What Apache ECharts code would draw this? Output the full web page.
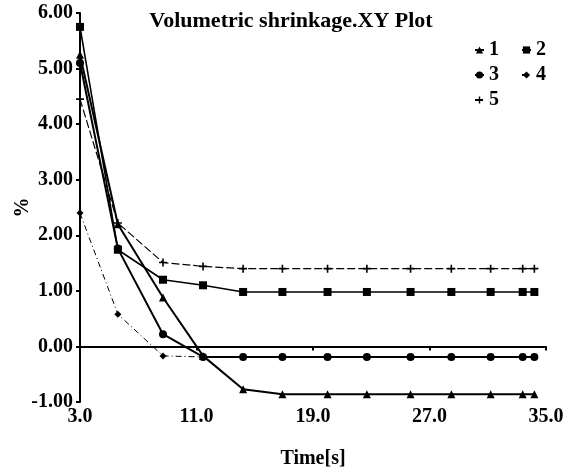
<!DOCTYPE html>
<html>
<head>
    <meta charset="utf-8">
    <title>Volumetric shrinkage XY Plot</title>
    <script src="https://cdn.jsdelivr.net/npm/echarts@6/dist/echarts.min.js"></script>
    <style type="text/css">
        html, body {
            margin: 0;
            height: 100%;
            background: #fff;
        }
    </style>
</head>
<body>
<div id="main" style="width: 563px;height:472px;"></div>
<script type="text/javascript">
    // time points (s)
    var time = [3.0, 5.6, 8.7, 11.45, 14.2, 16.9, 20.0, 22.7, 25.7, 28.5, 31.2, 33.4, 34.2];
    // volumetric shrinkage (%) per series
    var s1 = [5.25, 2.2, 0.88, -0.17, -0.77, -0.86, -0.86, -0.86, -0.86, -0.86, -0.86, -0.86, -0.86];
    var s2 = [5.75, 1.74, 1.2, 1.1, 0.98, 0.98, 0.98, 0.98, 0.98, 0.98, 0.98, 0.98, 0.98];
    var s3 = [5.1, 1.76, 0.22, -0.19, -0.19, -0.19, -0.19, -0.19, -0.19, -0.19, -0.19, -0.19, -0.19];
    var s4 = [2.4, 0.58, -0.17, -0.19, -0.19, -0.19, -0.19, -0.19, -0.19, -0.19, -0.19, -0.19, -0.19];
    var s5 = [4.45, 2.22, 1.51, 1.44, 1.4, 1.4, 1.4, 1.4, 1.4, 1.4, 1.4, 1.4, 1.4];
    var seriesNames = ['1', '2', '3', '4', '5'];
    var xTicks = [3, 11, 19, 27, 35];

    var serif = 'Liberation Serif';
    var plus = 'path://M4,0 L6,0 L6,4 L10,4 L10,6 L6,6 L6,10 L4,10 L4,6 L0,6 L0,4 L4,4 Z';

    function pairs(ys) {
        return time.map(function (t, i) { return [t, ys[i]]; });
    }

    function line(name, ys, symbol, size, width, type) {
        return {
            name: name,
            type: 'line',
            data: pairs(ys),
            symbol: symbol,
            symbolSize: size,
            itemStyle: { color: '#000' },
            lineStyle: { color: '#000', width: width, type: type },
            animation: false
        };
    }

    // legend laid out as rows of two, like the original
    function legendRow(names, top) {
        return {
            data: names,
            left: 469,
            top: top,
            orient: 'horizontal',
            itemGap: 22,
            itemWidth: 9,
            itemHeight: 9,
            textStyle: { fontFamily: serif, fontWeight: 'bold', fontSize: 20, color: '#000' }
        };
    }

    var myChart = echarts.init(document.getElementById('main'), null, {renderer: 'canvas'});

    var option = {
        backgroundColor: '#fff',
        title: {
            text: 'Volumetric shrinkage.XY Plot',
            left: 286,
            textAlign: 'center',
            top: 5,
            textStyle: { fontFamily: serif, fontWeight: 'bold', fontSize: 22, color: '#000' }
        },
        legend: [
            legendRow([seriesNames[0], seriesNames[1]], 35),
            legendRow([seriesNames[2], seriesNames[3]], 60),
            legendRow([seriesNames[4]], 85)
        ],
        grid: { left: 80, right: 17, top: 13, bottom: 70, outerBoundsMode: 'none' },
        xAxis: {
            type: 'value',
            min: 3,
            max: 35,
            name: 'Time[s]',
            nameLocation: 'middle',
            nameGap: 47,
            nameMoveOverlap: false,
            nameTextStyle: { fontFamily: serif, fontWeight: 'bold', fontSize: 20, color: '#000' },
            axisLine: { lineStyle: { color: '#000', width: 2 } },
            axisTick: { show: true, length: 4, customValues: xTicks, lineStyle: { color: '#000', width: 2 } },
            axisLabel: {
                customValues: xTicks,
                formatter: function (v) { return v.toFixed(1); },
                fontFamily: serif, fontWeight: 'bold', fontSize: 20, color: '#000', margin: 5
            },
            splitLine: { show: false }
        },
        yAxis: {
            type: 'value',
            min: -1,
            max: 6,
            interval: 1,
            name: '%',
            nameLocation: 'middle',
            nameGap: 47,
            nameMoveOverlap: false,
            nameRotate: 90,
            nameTextStyle: { fontFamily: serif, fontWeight: 'bold', fontSize: 20, color: '#000' },
            axisLine: { show: true, lineStyle: { color: '#000', width: 2 } },
            axisTick: { show: true, length: 4, lineStyle: { color: '#000', width: 2 } },
            axisLabel: {
                formatter: function (v) { return v.toFixed(2); },
                fontFamily: serif, fontWeight: 'bold', fontSize: 20, color: '#000', margin: 7
            },
            splitLine: { show: false }
        },
        series: [
            line(seriesNames[0], s1, 'triangle', 8, 2, 'solid'),
            line(seriesNames[1], s2, 'rect', 8, 1.6, 'solid'),
            line(seriesNames[2], s3, 'circle', 8, 2, 'solid'),
            line(seriesNames[3], s4, 'diamond', 7, 1, [6, 3, 1, 3]),
            line(seriesNames[4], s5, plus, 8, 1.2, [8, 3])
        ]
    };

    myChart.setOption(option);

    window.addEventListener("resize", function () {
        myChart.resize();
    });
</script>
</body>
</html>
